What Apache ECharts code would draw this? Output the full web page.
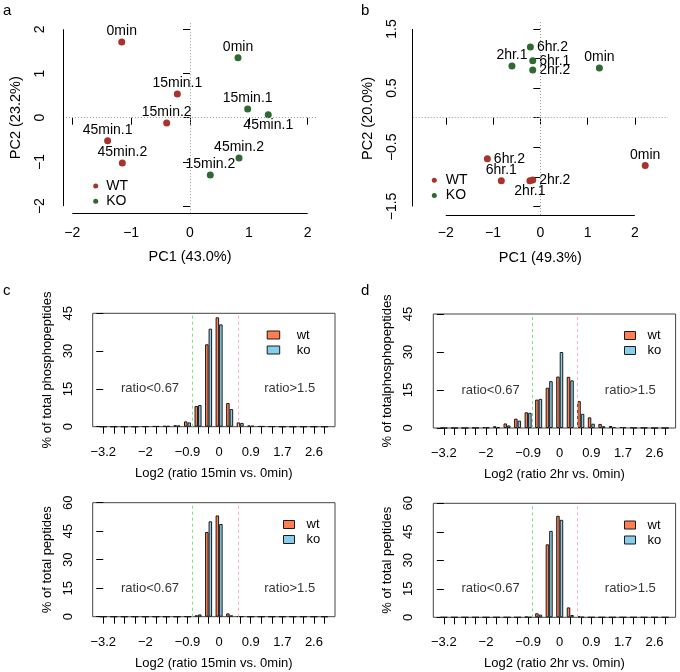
<!DOCTYPE html>
<html><head><meta charset="utf-8">
<script src="https://cdn.jsdelivr.net/npm/echarts@6/dist/echarts.min.js"></script>
<style>html,body{margin:0;padding:0;background:#fff}#c{width:680px;height:672px}</style>
</head><body><div id="c"></div>
<script>
// ================= DATA =================
// Panel a: PCA 15/45 min
const aWT_names = ['0min','15min.1','15min.2','45min.1','45min.2'];
const aWT_pc1   = [-1.16,-0.215,-0.396,-1.40,-1.15];
const aWT_pc2   = [1.71,0.536,-0.12,-0.52,-1.025];
const aKO_names = ['0min','15min.1','45min.1','45min.2','15min.2'];
const aKO_pc1   = [0.816,0.98,1.33,0.833,0.345];
const aKO_pc2   = [1.357,0.197,0.068,-0.912,-1.296];
// Panel b: PCA 2/6 hr
const bWT_names = ['6hr.2','6hr.1','2hr.2','2hr.1','0min'];
const bWT_pc1   = [-1.12,-0.825,-0.16,-0.22,2.22];
const bWT_pc2   = [-0.693,-1.065,-1.054,-1.065,-0.81];
const bKO_names = ['6hr.2','6hr.1','2hr.2','2hr.1','0min'];
const bKO_pc1   = [-0.21,-0.16,-0.16,-0.60,1.25];
const bKO_pc2   = [1.196,0.964,0.807,0.874,0.84];
// label placement (style)
const aWT_pos = ['top','top','top','top','top'];
const aKO_pos = ['top','top','bottom','top','top'];
const bWT_pos = ['right','top','right','bottom','top'];
const bKO_pos = ['right','right','right','top','top'];
// Histogram bins (22 bins) and tick labels
const binTickLabels = ['−3.2','','','','−2','','','','−0.9','','','0','','','0.9','','','1.7','','','2.6',''];
const labeledBins = [0,4,8,11,14,17,20];
// c top: phosphopeptides 15min
const cPhosWT = [0,0,0,0,0.1,0.2,0.3,0.6,2.1,8.2,32.7,43.4,9.4,1.7,0.5,0.2,0.1,0,0,0,0,0];
const cPhosKO = [0,0,0,0,0.1,0.2,0.3,0.5,1.7,8.6,38.9,40.6,7.0,1.5,0.4,0.2,0.1,0,0,0,0,0];
// d top: phosphopeptides 2hr
const dPhosWT = [0,0,0,0.1,0.3,0.7,1.8,3.7,6.2,11.2,15.9,20.3,20.2,10.6,4.2,1.6,0.8,0.4,0.2,0.1,0,0];
const dPhosKO = [0,0,0,0.1,0.2,0.3,1.0,2.9,6.0,11.5,18.5,30.0,18.8,5.6,1.7,0.7,0.4,0.3,0.1,0.1,0,0];
// c bottom: peptides 15min
const cPepWT = [0,0,0,0,0,0,0,0,0.1,0.7,44.6,53.3,1.75,0.2,0,0,0,0,0,0,0,0];
const cPepKO = [0,0,0,0,0,0,0,0,0,1.2,50.2,48.8,0.7,0.1,0,0,0,0,0,0,0,0];
// d bottom: peptides 2hr
const dPepWT = [0,0,0,0,0,0,0,0,0.3,2.1,38.4,53.4,5.2,0.5,0,0,0,0,0,0,0,0];
const dPepKO = [0,0,0,0,0,0,0,0,0,1.4,45.5,51.3,1.2,0.1,0,0,0,0,0,0,0,0];

// ================= STYLE / LAYOUT =================
const FONT = '"Liberation Sans", Arial, Helvetica, sans-serif';
const RED = '#A8322D', GREEN = '#2E6930';
const ORANGE = '#FF7F50', BLUE = '#87CEEB';
const LOCOL = '#7FE27F', HICOL = '#FFB0BE';
const fmt = v => (v < 0 ? '−' : '') + String(Math.abs(v));

const grids = [], xAxes = [], yAxes = [], series = [], legends = [], titles = [];

function pcaPanel(c) {
  const gi = grids.length;
  grids.push({left: c.left, top: c.top, width: c.width, height: c.height});
  xAxes.push({gridIndex: gi, type: 'value', min: c.xmin, max: c.xmax,
    name: c.xname, nameLocation: 'middle', nameGap: c.xNameGap,
    nameTextStyle: {fontSize: 14.5, color: '#000', fontFamily: FONT},
    axisLine: {show: false}, splitLine: {show: false},
    axisTick: {show: true, length: 7, lineStyle: {color: '#000'}, customValues: c.xticks},
    axisLabel: {customValues: c.xticks, formatter: fmt, fontSize: 14, color: '#000', margin: c.xLabMargin, fontFamily: FONT}});
  yAxes.push({gridIndex: gi, type: 'value', min: c.ymin, max: c.ymax,
    name: c.yname, nameLocation: 'middle', nameGap: c.yNameGap, nameRotate: 90,
    nameTextStyle: {fontSize: 14.5, color: '#000', fontFamily: FONT},
    axisLine: {show: false}, splitLine: {show: false},
    axisTick: {show: true, length: 7, lineStyle: {color: '#000'}, customValues: c.yticks},
    axisLabel: {customValues: c.ylabels, formatter: fmt, rotate: 90, fontSize: 14, color: '#000', margin: c.yLabMargin, fontFamily: FONT}});
  const mk = (names, xs, ys, pos, col, nm) => ({
    type: 'scatter', name: nm, xAxisIndex: gi, yAxisIndex: gi, symbolSize: 7,
    itemStyle: {color: col, opacity: 1}, clip: false,
    label: {show: true, formatter: '{b}', fontSize: 14, color: '#000', fontFamily: FONT, distance: 1},
    data: names.map((n, i) => ({name: n, value: [xs[i], ys[i]], label: {position: pos[i], distance: pos[i] === 'right' ? 3 : 0}}))
  });
  const wt = mk(c.wt[0], c.wt[1], c.wt[2], c.wt[3], RED, 'WT');
  wt.markLine = {silent: true, symbol: ['none', 'none'], label: {show: false},
    data: [
      {xAxis: 0, lineStyle: {color: '#999', type: [1, 2], width: 1}},
      {yAxis: 0, lineStyle: {color: '#999', type: [1, 2], width: 1}},
      [{coord: [c.xticks[0], c.ymin], lineStyle: {color: '#000', type: 'solid', width: 1}}, {coord: [c.xticks[c.xticks.length - 1], c.ymin]}],
      [{coord: [c.xmin, c.yticks[0]], lineStyle: {color: '#000', type: 'solid', width: 1}}, {coord: [c.xmin, c.yticks[c.yticks.length - 1]]}]
    ]};
  series.push(wt);
  series.push(mk(c.ko[0], c.ko[1], c.ko[2], c.ko[3], GREEN, 'KO'));
  legends.push({data: ['WT', 'KO'], orient: 'vertical', left: c.legLeft, top: c.legTop, padding: 0,
    icon: 'circle', itemWidth: 5, itemHeight: 5, itemGap: 0.3, selectedMode: false,
    textStyle: {fontSize: 14, color: '#000', fontFamily: FONT, lineHeight: 15, padding: [0, 0, 0, c.legTextPad]}});
}

function histPanel(c) {
  const gi = grids.length;
  grids.push({left: c.left, top: c.top, width: 242.3, height: c.height, show: true, borderColor: '#444', borderWidth: 1});
  const bins = c.wt.map((_, i) => i);
  xAxes.push({gridIndex: gi, type: 'value', min: -1, max: 22,
    name: c.xname, nameLocation: 'middle', nameGap: 40,
    nameTextStyle: {fontSize: 13, color: '#000', fontFamily: FONT},
    axisLine: {show: false}, splitLine: {show: false},
    axisTick: {show: true, length: 7, lineStyle: {color: '#000'}, customValues: bins},
    axisLabel: {customValues: labeledBins, formatter: v => binTickLabels[v], fontSize: 13, color: '#000', margin: 19, fontFamily: FONT}});
  yAxes.push({gridIndex: gi, type: 'value', min: 0, max: c.ymax, interval: 15,
    name: c.yname, nameLocation: 'middle', nameGap: 39, nameRotate: 90,
    nameTextStyle: {fontSize: 13, color: '#000', fontFamily: FONT},
    axisLine: {show: false}, splitLine: {show: false},
    axisTick: {show: true, length: 7, lineStyle: {color: '#000'}},
    axisLabel: {rotate: 90, fontSize: 13, color: '#000', margin: 18, fontFamily: FONT}});
  const bar = (vals, col, nm) => ({type: 'bar', name: nm, xAxisIndex: gi, yAxisIndex: gi,
    barGap: '0%', barCategoryGap: '33.33%',
    itemStyle: {color: col, borderColor: '#1a1a1a', borderWidth: 1},
    data: vals.map((v, i) => [i, v])});
  // threshold lines drawn by a helper line series (markLines only)
  series.push({type: 'line', xAxisIndex: gi, yAxisIndex: gi, data: [], silent: true,
    markLine: {silent: true, symbol: ['none', 'none'], label: {show: false},
      data: [
        {xAxis: c.lo, lineStyle: {color: LOCOL, type: [3, 3], width: 1, opacity: 1}},
        {xAxis: c.hi, lineStyle: {color: HICOL, type: [3, 3], width: 1, opacity: 1}}
      ]}});
  series.push(bar(c.wt, ORANGE, 'wt'), bar(c.ko, BLUE, 'ko'));
  series.push({type: 'scatter', xAxisIndex: gi, yAxisIndex: gi, symbolSize: 0, silent: true,
    label: {show: true, position: 'inside', formatter: '{b}', fontSize: 13, color: '#000', fontFamily: FONT},
    data: [{name: 'ratio<0.67', value: [4.44, 15]}, {name: 'ratio>1.5', value: [17.7, 15]}]});
  legends.push({data: ['wt', 'ko'], orient: 'vertical', left: c.legLeft, top: c.legTop, padding: 0,
    icon: 'rect', itemWidth: c.legW, itemHeight: 8, itemGap: 0, selectedMode: false,
    itemStyle: {borderColor: '#1a1a1a', borderWidth: 1},
    textStyle: {fontSize: 13, color: '#000', fontFamily: FONT, lineHeight: 15, padding: [0, 0, 0, c.legPad]}});
}

pcaPanel({left: 62.9, top: 22.2, width: 254.2, height: 191,
  xmin: -2.16, xmax: 2.16, ymin: -2.16, ymax: 2.16,
  xticks: [-2, -1, 0, 1, 2], yticks: [-2, -1, 0, 1, 2], ylabels: [-2, -1, 0, 1, 2],
  xname: 'PC1 (43.0%)', yname: 'PC2 (23.2%)', xNameGap: 36, yNameGap: 39, xLabMargin: 13, yLabMargin: 16,
  wt: [aWT_names, aWT_pc1, aWT_pc2, aWT_pos], ko: [aKO_names, aKO_pc1, aKO_pc2, aKO_pos],
  legLeft: 93.2, legTop: 178.5, legTextPad: 3});

pcaPanel({left: 412.7, top: 21.9, width: 255.2, height: 193.1,
  xmin: -2.7, xmax: 2.7, ymin: -1.645, ymax: 1.62,
  xticks: [-2, -1, 0, 1, 2], yticks: [-1.5, -1, -0.5, 0, 0.5, 1, 1.5], ylabels: [-1.5, -0.5, 0.5, 1.5],
  xname: 'PC1 (49.3%)', yname: 'PC2 (20.0%)', xNameGap: 35, yNameGap: 37.5, xLabMargin: 11, yLabMargin: 14,
  wt: [bWT_names, bWT_pc1, bWT_pc2, bWT_pos], ko: [bKO_names, bKO_pc1, bKO_pc2, bKO_pos],
  legLeft: 431.8, legTop: 172.8, legTextPad: 4});

histPanel({left: 92.7, top: 313.3, height: 113.4, ymax: 45, wt: cPhosWT, ko: cPhosKO, lo: 8.45, hi: 12.8,
  xname: 'Log2 (ratio 15min vs. 0min)', yname: '% of total phosphopeptides', legLeft: 266.7, legTop: 327.5, legW: 12.5, legPad: 12});
histPanel({left: 433.3, top: 314, height: 114, ymax: 45, wt: dPhosWT, ko: dPhosKO, lo: 8.4, hi: 12.7,
  xname: 'Log2 (ratio 2hr vs. 0min)', yname: '% of totalphosphopeptides', legLeft: 624, legTop: 328, legW: 11, legPad: 7});
histPanel({left: 92.7, top: 502.7, height: 114, ymax: 60, wt: cPepWT, ko: cPepKO, lo: 8.45, hi: 12.8,
  xname: 'Log2 (ratio 15min vs. 0min)', yname: '% of total peptides', legLeft: 283, legTop: 517, legW: 11, legPad: 7});
histPanel({left: 433.3, top: 503.3, height: 114, ymax: 60, wt: dPepWT, ko: dPepKO, lo: 8.4, hi: 12.7,
  xname: 'Log2 (ratio 2hr vs. 0min)', yname: '% of total peptides', legLeft: 624, legTop: 517.5, legW: 11, legPad: 7});

[['a', 3, 3], ['b', 361, 3], ['c', 3, 283], ['d', 361, 283]].forEach(t =>
  titles.push({text: t[0], left: t[1], top: t[2], padding: 0,
    textStyle: {fontSize: 15, fontWeight: 'normal', color: '#000', fontFamily: FONT}}));

const chart = echarts.init(document.getElementById('c'));
chart.setOption({animation: false, backgroundColor: '#fff', textStyle: {fontFamily: FONT},
  title: titles, grid: grids, xAxis: xAxes, yAxis: yAxes, legend: legends, series: series});
</script></body></html>
